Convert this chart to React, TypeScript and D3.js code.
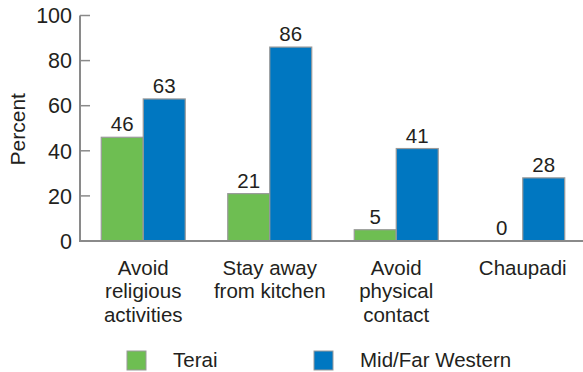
import React from "react";
import * as d3 from "d3";

const categories = [
  ["Avoid", "religious", "activities"],
  ["Stay away", "from kitchen"],
  ["Avoid", "physical", "contact"],
  ["Chaupadi"],
];
const seriesNames = ["Terai", "Mid/Far Western"];
const terai = [46, 21, 5, 0];
const midFar = [63, 86, 41, 28];
const yTicks = [0, 20, 40, 60, 80, 100];
const colors = ["#6EBE52", "#0077C1"];

const W = 583;
const H = 372;
const FONT = "'Liberation Sans', Arial, sans-serif";
const FS = 20.5;

export default function App() {
  const left = 80;
  const right = 586;
  const top = 15.5;
  const bottom = 241;
  const x = d3
    .scaleBand<number>()
    .domain(d3.range(categories.length))
    .range([left, right])
    .paddingInner(0)
    .paddingOuter(0);
  const y = d3.scaleLinear().domain([0, 100]).range([bottom, top]);
  const bw = x.bandwidth();
  const barW = 42;
  const series = [terai, midFar];
  const tickColor = "#8a8a8a";
  const textColor = "#231f20";

  return (
    <svg
      width={W}
      height={H}
      style={{ position: "absolute", left: 0, top: 0 }}
      fontFamily={FONT}
    >
      <rect width={W} height={H} fill="#fff" />
      {series.map((vals, si) =>
        vals.map((v, i) => {
          const cx = (x(i) as number) + bw / 2;
          const bx = cx - barW + si * barW;
          return (
            <g key={`${si}-${i}`}>
              <rect
                x={bx}
                y={y(v)}
                width={barW}
                height={bottom - y(v)}
                fill={colors[si]}
                stroke="#9a9a9a"
                strokeWidth={1.2}
              />
              <text
                x={bx + barW / 2}
                y={y(v) - 6}
                textAnchor="middle"
                fontSize={FS}
                fill={textColor}
              >
                {v}
              </text>
            </g>
          );
        })
      )}
      {/* axes */}
      <line x1={left} x2={left} y1={top} y2={bottom} stroke={tickColor} strokeWidth={2} />
      <line x1={left - 1} x2={W} y1={bottom} y2={bottom} stroke={tickColor} strokeWidth={2} />
      {yTicks.map((t) => (
        <g key={t}>
          {t > 0 && (
            <line x1={left} x2={left + 10} y1={y(t)} y2={y(t)} stroke={tickColor} strokeWidth={1.5} />
          )}
          <text
            x={left - 8}
            y={y(t)}
            dy="0.36em"
            textAnchor="end"
            fontSize={21.5}
            fill={textColor}
          >
            {t}
          </text>
        </g>
      ))}
      <text
        transform={`translate(${25},${(top + bottom) / 2 + 1}) rotate(-90)`}
        textAnchor="middle"
        fontSize={21}
        fill={textColor}
      >
        Percent
      </text>
      {categories.map((lines, i) => (
        <text
          key={i}
          x={(x(i) as number) + bw / 2}
          y={274.5}
          textAnchor="middle"
          fontSize={FS}
          fill={textColor}
        >
          {lines.map((l, j) => (
            <tspan key={j} x={(x(i) as number) + bw / 2} dy={j === 0 ? 0 : 23.5}>
              {l}
            </tspan>
          ))}
        </text>
      ))}
      {/* legend */}
      {seriesNames.map((n, i) => {
        const lx = [127, 314][i];
        return (
          <g key={n}>
            <rect x={lx} y={351} width={19} height={19} fill={colors[i]} stroke="#9a9a9a" strokeWidth={1} />
            <text x={lx + 46} y={367} fontSize={FS} fill={textColor}>
              {n}
            </text>
          </g>
        );
      })}
    </svg>
  );
}
